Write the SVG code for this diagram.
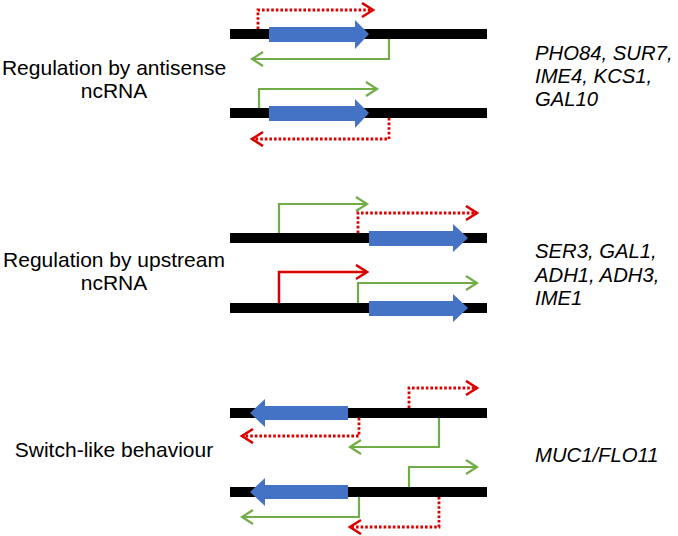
<svg xmlns="http://www.w3.org/2000/svg" width="678" height="536" viewBox="0 0 678 536">
<style>
.bar{fill:#000}
.gene{fill:#4472C4}
.lbl{font-family:"Liberation Sans",Arial,sans-serif;font-size:21px;fill:#000;text-anchor:middle}
.gn{font-family:"Liberation Sans",Arial,sans-serif;font-size:20.3px;font-style:italic;fill:#000}
.g{fill:none;stroke:#70AD47;stroke-width:2.2;marker-end:url(#ag)}
.r{fill:none;stroke:#DA0000;stroke-width:2.5;marker-end:url(#ar)}
.rd{fill:none;stroke:#DA0000;stroke-width:2.8;stroke-dasharray:2.6 2;marker-end:url(#ar)}
</style>
<defs>
<marker id="ag" markerUnits="userSpaceOnUse" markerWidth="16" markerHeight="18" refX="13" refY="8" orient="auto">
<path d="M2,1 L13,8 L2,15" fill="none" stroke="#70AD47" stroke-width="2.2"/>
</marker>
<marker id="ar" markerUnits="userSpaceOnUse" markerWidth="16" markerHeight="18" refX="13" refY="8" orient="auto">
<path d="M2,1 L13,8 L2,15" fill="none" stroke="#DA0000" stroke-width="2.6"/>
</marker>
</defs>

<g id="label-antisense">
<text class="lbl" x="114" y="75">Regulation by antisense</text>
<text class="lbl" x="114" y="98">ncRNA</text>
</g>
<g id="label-upstream">
<text class="lbl" x="114" y="267">Regulation by upstream</text>
<text class="lbl" x="114" y="290">ncRNA</text>
</g>
<g id="label-switch">
<text class="lbl" x="114" y="457">Switch-like behaviour</text>
</g>

<g id="genes-antisense">
<text class="gn" x="535" y="60">PHO84, SUR7,</text>
<text class="gn" x="535" y="83">IME4, KCS1,</text>
<text class="gn" x="535" y="106">GAL10</text>
</g>
<g id="genes-upstream">
<text class="gn" x="535" y="258">SER3, GAL1,</text>
<text class="gn" x="535" y="282">ADH1, ADH3,</text>
<text class="gn" x="535" y="305">IME1</text>
</g>
<g id="genes-switch">
<text class="gn" x="535" y="462">MUC1/FLO11</text>
</g>

<g id="locus1">
<rect class="bar" x="230" y="29" width="257" height="10"/>
<polygon class="gene" points="269,27 355,27 355,20 369,34 355,49 355,42 269,42"/>
</g>
<g id="locus2">
<rect class="bar" x="230" y="108" width="257" height="10"/>
<polygon class="gene" points="269,106 355,106 355,99 369,113 355,128 355,121 269,121"/>
</g>
<g id="locus3">
<rect class="bar" x="230" y="233" width="257" height="10"/>
<polygon class="gene" points="369,231 453,231 453,224 468,238 453,252 453,246 369,246"/>
</g>
<g id="locus4">
<rect class="bar" x="230" y="303" width="257" height="10"/>
<polygon class="gene" points="369,301 453,301 453,294 468,308 453,322 453,316 369,316"/>
</g>
<g id="locus5">
<rect class="bar" x="230" y="408" width="257" height="10"/>
<polygon class="gene" points="348,406 265,406 265,399 250,413 265,427 265,420 348,420"/>
</g>
<g id="locus6">
<rect class="bar" x="230" y="487" width="257" height="10"/>
<polygon class="gene" points="348,485 265,485 265,478 250,492 265,506 265,499 348,499"/>
</g>

<g id="connectors">
<path class="rd" d="M258,29 V10 H373"/>
<path class="g" d="M389,39 V59 H252"/>
<path class="g" d="M259,108 V89 H377"/>
<path class="rd" d="M389,118 V139 H252"/>

<path class="g" d="M279,233 V204 H367"/>
<path class="rd" d="M358,233 V213 H477"/>
<path class="r" d="M279,303 V272 H367"/>
<path class="g" d="M358,303 V283 H477"/>

<path class="rd" d="M409,408 V388 H477"/>
<path class="rd" d="M359,418 V436 H242"/>
<path class="g" d="M439,418 V447 H350"/>
<path class="g" d="M409,487 V467 H477"/>
<path class="g" d="M359,497 V517 H242"/>
<path class="rd" d="M439,497 V527 H350"/>
</g>
</svg>
